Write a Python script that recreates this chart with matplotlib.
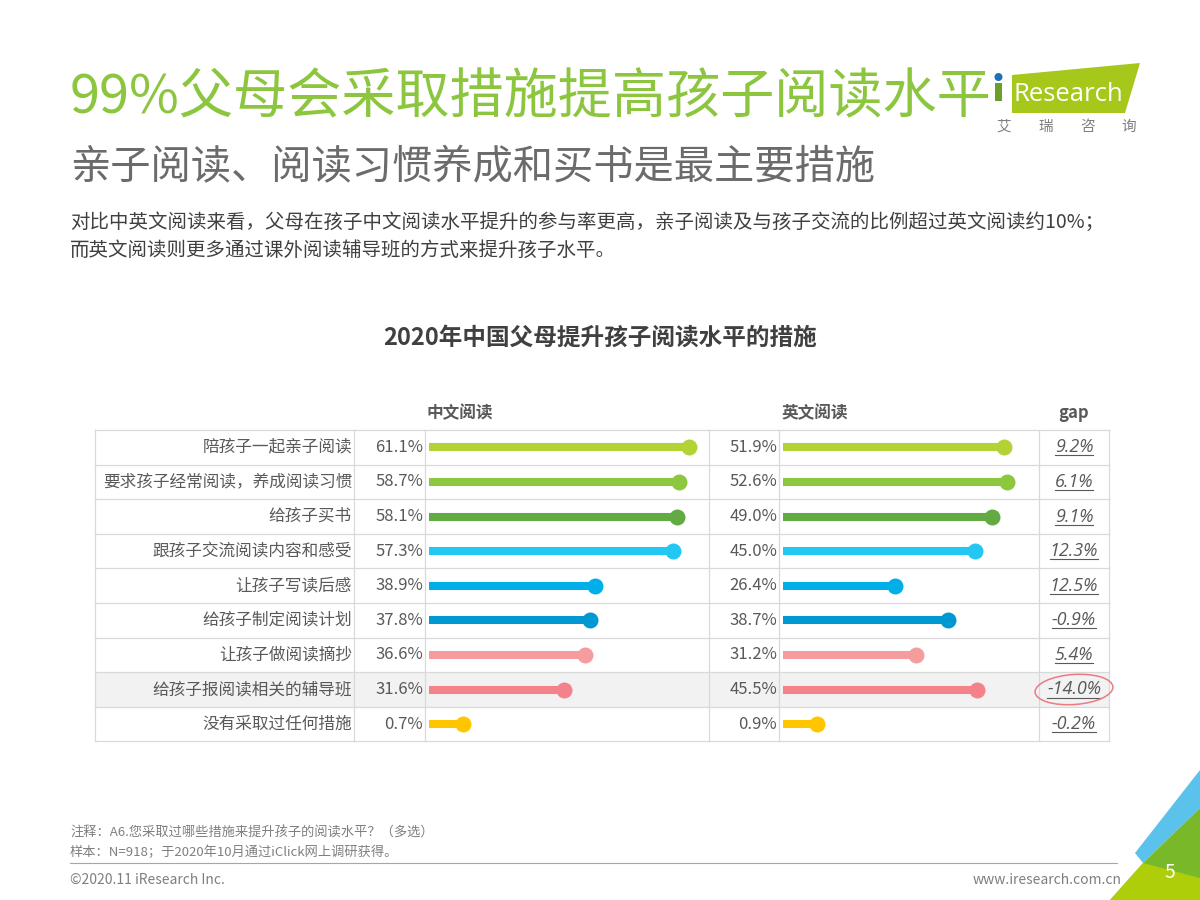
import matplotlib.pyplot as plt
import numpy as np
from matplotlib.patches import Polygon, Rectangle, Ellipse, Circle

plt.rcParams['font.family'] = ['Noto Sans CJK SC', 'DejaVu Sans']

# ----------------------------------------
# Data
# ----------------------------------------
measures = ["陪孩子一起亲子阅读", "要求孩子经常阅读，养成阅读习惯", "给孩子买书",
            "跟孩子交流阅读内容和感受", "让孩子写读后感", "给孩子制定阅读计划",
            "让孩子做阅读摘抄", "给孩子报阅读相关的辅导班", "没有采取过任何措施"]
chinese_reading = [61.1, 58.7, 58.1, 57.3, 38.9, 37.8, 36.6, 31.6, 0.7]
english_reading = [51.9, 52.6, 49.0, 45.0, 26.4, 38.7, 31.2, 45.5, 0.9]
gap_labels = ["9.2%", "6.1%", "9.1%", "12.3%", "12.5%", "-0.9%", "5.4%", "-14.0%", "-0.2%"]
column_titles = ["中文阅读", "英文阅读", "gap"]
bar_colors = ["#b2d235", "#8dc63f", "#62ab43", "#22c7f3", "#00aee8",
              "#0098d2", "#f59c9c", "#f3828a", "#ffc600"]
highlight_row = 7      # the row with the circled gap

# ----------------------------------------
# Layout (pixels of the 1200x900 page)
# ----------------------------------------
W, H = 1200, 900
TABLE_TOP = 430
ROW_H = 34.6
COL_LINES = [95, 354, 425, 709, 779, 1039, 1109]
PX_PER_PCT = 4.26
ZERO_PAD = 4           # bar starts a few px right of the column line
MIN_SHOWN = 8          # tiny values still get a visible stub, like the original
GRID = "#d9d9d9"
TEXT = "#595959"


def px_axes(fig, x0, x1, y0, y1):
    return fig.add_axes([x0 / W, 1 - y1 / H, (x1 - x0) / W, (y1 - y0) / H])


#---------------------------------------------
# Bar column
#---------------------------------------------
def draw_bars(fig, x0, x1, values):
    n = len(values)
    ax = px_axes(fig, x0, x1, TABLE_TOP, TABLE_TOP + n * ROW_H)
    ax.set_facecolor("none")
    ax.set_xlim(-ZERO_PAD / PX_PER_PCT, (x1 - x0 - ZERO_PAD) / PX_PER_PCT)
    ax.set_ylim(n - 0.5, -0.5)
    ax.axis("off")
    for i, (v, c) in enumerate(zip(values, bar_colors)):
        shown = max(v, MIN_SHOWN)
        ax.plot([0, shown], [i, i], lw=5.8, color=c, solid_capstyle="butt")
        ax.plot(shown, i, "o", ms=11.5, color=c, mec="none")
    return ax


#---------------------------------------------
# Page decoration
#---------------------------------------------
def draw_page(bg):
    # titles
    bg.text(70, 98, "99%父母会采取措施提高孩子阅读水平", fontsize=39, color="#8cc63f",
            fontweight=300, va="center", ha="left")
    bg.text(70, 168, "亲子阅读、阅读习惯养成和买书是最主要措施", fontsize=29,
            fontweight=300, color="#6b6b6b", va="center", ha="left")
    bg.text(70, 222, "对比中英文阅读来看，父母在孩子中文阅读水平提升的参与率更高，"
            "亲子阅读及与孩子交流的比例超过英文阅读约10%；", fontsize=14,
            color="#404040", va="center", ha="left")
    bg.text(70, 250, "而英文阅读则更多通过课外阅读辅导班的方式来提升孩子水平。",
            fontsize=14, color="#404040", va="center", ha="left")

    # logo
    bg.add_patch(Polygon([(1012, 75), (1140, 63), (1125, 113), (1012, 113)],
                         closed=True, color="#a5c81b", lw=0))
    bg.add_patch(Rectangle((995, 83), 7, 18, color="#6a9f2a", lw=0))
    bg.add_patch(Circle((998.5, 77), 4, color="#1e70b8", lw=0))
    bg.text(1013, 101, "Research", family=["Open Sans", "DejaVu Sans"], fontsize=18.5,
            color="white", va="baseline", ha="left")
    for k, ch in enumerate("艾瑞咨询"):
        bg.text(1004 + k * 41.7, 127, ch, fontsize=10.5, color="#7f7f7f",
                ha="center", va="center")

    # footer
    bg.text(70, 833, "注释：A6.您采取过哪些措施来提升孩子的阅读水平？（多选）",
            fontsize=9.5, color="#7f7f7f", va="center")
    bg.text(70, 852, "样本：N=918；于2020年10月通过iClick网上调研获得。",
            fontsize=9.5, color="#7f7f7f", va="center")
    bg.plot([70, 1117], [863, 863], color="#a6a6a6", lw=0.8)
    bg.text(70, 880, "©2020.11 iResearch Inc.", fontsize=10, color="#7f7f7f", va="center")
    bg.text(1122, 880, "www.iresearch.com.cn", fontsize=10, color="#7f7f7f",
            va="center", ha="right")

    # corner shapes
    bg.add_patch(Polygon([(1135, 853), (1200, 770), (1200, 808), (1143, 863)],
                         closed=True, color="#5bc2ec", lw=0))
    bg.add_patch(Polygon([(1143, 863), (1200, 808), (1200, 900), (1110, 900)],
                         closed=True, color="#79b829", lw=0))
    bg.add_patch(Polygon([(1110, 900), (1143, 863), (1200, 878), (1200, 900)],
                         closed=True, color="#c2d600", alpha=0.75, lw=0))
    bg.text(1170, 872, "5", fontsize=14, color="white", ha="center", va="center")


#---------------------------------------------
# Table
#---------------------------------------------
def draw_table(fig, bg):
    n = len(measures)
    bottom = TABLE_TOP + n * ROW_H

    bg.text(600, 338, "2020年中国父母提升孩子阅读水平的措施", fontsize=17,
            fontweight="bold", color="#404040", ha="center", va="center")

    # highlighted row
    bg.add_patch(Rectangle((COL_LINES[0], TABLE_TOP + highlight_row * ROW_H),
                           COL_LINES[-1] - COL_LINES[0], ROW_H,
                           color="#f2f2f2", lw=0, zorder=0))

    # grid
    for k in range(n + 1):
        y = TABLE_TOP + k * ROW_H
        bg.plot([COL_LINES[0], COL_LINES[-1]], [y, y], color=GRID, lw=0.9, zorder=1)
    for x in COL_LINES:
        bg.plot([x, x], [TABLE_TOP, bottom], color=GRID, lw=0.9, zorder=1)

    # column headers
    header_x = [(COL_LINES[2] + 495) / 2, (COL_LINES[4] + 850) / 2,
                (COL_LINES[5] + COL_LINES[6]) / 2]
    for x, t in zip(header_x, column_titles):
        bg.text(x, 413, t, fontsize=12, fontweight="bold", color=TEXT,
                ha="center", va="center")

    gap_texts = []
    for i in range(n):
        y = TABLE_TOP + (i + 0.5) * ROW_H
        bg.text(COL_LINES[1] - 2, y, measures[i], fontsize=12, color=TEXT,
                ha="right", va="center")
        bg.text(COL_LINES[2] - 2, y, f"{chinese_reading[i]:.1f}%", fontsize=12,
                color=TEXT, ha="right", va="center")
        bg.text(COL_LINES[4] - 2, y, f"{english_reading[i]:.1f}%", fontsize=12,
                color=TEXT, ha="right", va="center")
        t = bg.text((COL_LINES[5] + COL_LINES[6]) / 2, y, gap_labels[i],
                    family=["Open Sans", "DejaVu Sans"], style="italic",
                    fontsize=13, color=TEXT, ha="center", va="center")
        gap_texts.append(t)

    # circled gap
    hy = TABLE_TOP + (highlight_row + 0.5) * ROW_H
    bg.add_patch(Ellipse(((COL_LINES[5] + COL_LINES[6]) / 2, hy), 78, 30, angle=-4,
                         fill=False, ec="#ec7a82", lw=1.1, zorder=3))

    draw_bars(fig, COL_LINES[2], COL_LINES[3], chinese_reading)
    draw_bars(fig, COL_LINES[4], COL_LINES[5], english_reading)

    # underline the gap labels
    fig.canvas.draw()
    inv = bg.transData.inverted()
    for t in gap_texts:
        bb = t.get_window_extent()
        (xa, ya), (xb, _) = inv.transform([(bb.x0, bb.y0), (bb.x1, bb.y0)])
        bg.plot([xa, xb], [ya - 1, ya - 1], color=TEXT, lw=0.8)


def main():
    fig = plt.figure(figsize=(12, 9), dpi=100)
    bg = fig.add_axes([0, 0, 1, 1])
    bg.set_xlim(0, W)
    bg.set_ylim(H, 0)
    bg.axis("off")

    draw_page(bg)
    draw_table(fig, bg)

    fig.savefig("out.png", dpi=100)


if __name__ == "__main__":
    main()
